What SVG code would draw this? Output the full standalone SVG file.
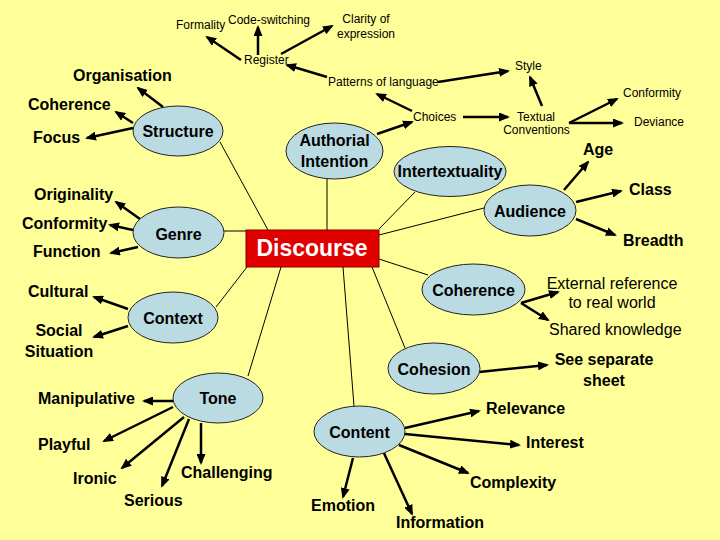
<svg xmlns="http://www.w3.org/2000/svg" width="720" height="540" viewBox="0 0 720 540">
<style>
.b{font-family:"Liberation Sans",Arial,sans-serif;font-weight:bold;font-size:16px;fill:#000}
.s{font-family:"Liberation Sans",Arial,sans-serif;font-size:12px;fill:#000}
.m{font-family:"Liberation Sans",Arial,sans-serif;font-size:16px;fill:#000}
.c{text-anchor:middle}
.el{fill:#BADBE2;stroke:#222;stroke-width:1}
.ln{stroke:#000;stroke-width:1;fill:none}
.ar{stroke:#000;stroke-width:2.5;fill:none;marker-end:url(#ah)}
</style>
<defs>
<marker id="ah" markerUnits="userSpaceOnUse" markerWidth="11" markerHeight="9" refX="9" refY="4.5" orient="auto">
<path d="M0,0 L11,4.5 L0,9 z" fill="#000"/>
</marker>
</defs>
<rect x="0" y="0" width="720" height="540" fill="#FFFF99"/>

<g id="connectors">
<!-- thin lines from Discourse -->
<line class="ln" x1="220" y1="142" x2="268" y2="230"/>
<line class="ln" x1="327" y1="179" x2="327" y2="230"/>
<line class="ln" x1="415" y1="192" x2="379" y2="229"/>
<line class="ln" x1="484" y1="208" x2="379" y2="235"/>
<line class="ln" x1="224" y1="231" x2="246" y2="231"/>
<line class="ln" x1="379" y1="259" x2="428" y2="275"/>
<line class="ln" x1="372" y1="267" x2="405" y2="348"/>
<line class="ln" x1="343" y1="267" x2="354" y2="406"/>
<line class="ln" x1="281" y1="267" x2="248" y2="376"/>
<line class="ln" x1="247" y1="267" x2="216" y2="307"/>
<!-- Structure -->
<line class="ar" x1="163" y1="107" x2="138" y2="88"/>
<line class="ar" x1="133" y1="123" x2="116" y2="112"/>
<line class="ar" x1="133" y1="128" x2="87" y2="138"/>
<!-- Register -->
<line class="ar" x1="241" y1="60" x2="207" y2="37"/>
<line class="ar" x1="258" y1="55" x2="258" y2="27"/>
<line class="ar" x1="281" y1="54" x2="332" y2="26"/>
<line class="ar" x1="327" y1="77" x2="287" y2="65"/>
<!-- Patterns / Choices / Textual -->
<line class="ar" x1="438" y1="82" x2="508" y2="71"/>
<line class="ar" x1="412" y1="111" x2="377" y2="94"/>
<line class="ar" x1="377" y1="134" x2="412" y2="122"/>
<line class="ar" x1="463" y1="117" x2="508" y2="117"/>
<line class="ar" x1="542" y1="106" x2="530" y2="77"/>
<line class="ar" x1="569" y1="123" x2="617" y2="99"/>
<line class="ar" x1="569" y1="123" x2="622" y2="123"/>
<!-- Audience -->
<line class="ar" x1="564" y1="190" x2="588" y2="162"/>
<line class="ar" x1="576" y1="202" x2="621" y2="191"/>
<line class="ar" x1="576" y1="219" x2="615" y2="235"/>
<!-- Coherence -->
<line class="ar" x1="521" y1="303" x2="558" y2="292"/>
<line class="ar" x1="521" y1="303" x2="548" y2="320"/>
<!-- Cohesion -->
<line class="ar" x1="479" y1="372" x2="547" y2="365"/>
<!-- Content -->
<line class="ar" x1="405" y1="428" x2="479" y2="411"/>
<line class="ar" x1="405" y1="434" x2="519" y2="445"/>
<line class="ar" x1="399" y1="445" x2="468" y2="473"/>
<line class="ar" x1="383" y1="451" x2="412" y2="514"/>
<line class="ar" x1="353" y1="458" x2="343" y2="497"/>
<!-- Tone -->
<line class="ar" x1="173" y1="401" x2="144" y2="401"/>
<line class="ar" x1="173" y1="407" x2="104" y2="441"/>
<line class="ar" x1="184" y1="417" x2="122" y2="468"/>
<line class="ar" x1="189" y1="419" x2="162" y2="486"/>
<line class="ar" x1="201" y1="423" x2="201" y2="463"/>
<!-- Genre -->
<line class="ar" x1="140" y1="219" x2="116" y2="202"/>
<line class="ar" x1="133" y1="230" x2="110" y2="225"/>
<line class="ar" x1="138" y1="247" x2="111" y2="253"/>
<!-- Context -->
<line class="ar" x1="128" y1="309" x2="94" y2="297"/>
<line class="ar" x1="128" y1="326" x2="94" y2="337"/>
</g>

<g id="discourse">
<rect x="246" y="230" width="133" height="37" fill="#E00000" stroke="#800000" stroke-width="1"/>
<text class="b c" x="312" y="256" style="font-size:23px;fill:#fff">Discourse</text>
</g>
<g id="structure"><ellipse class="el" cx="178" cy="131" rx="45" ry="25"/><text class="b c" x="178" y="137">Structure</text></g>
<g id="authorial"><ellipse class="el" cx="334.5" cy="151" rx="48.5" ry="28"/><text class="b c" x="334.5" y="146">Authorial</text><text class="b c" x="334.5" y="167">Intention</text></g>
<g id="intertextuality"><ellipse class="el" cx="450" cy="171.5" rx="56" ry="25"/><text class="b c" x="450" y="177">Intertextuality</text></g>
<g id="audience"><ellipse class="el" cx="530" cy="210.5" rx="46" ry="25.5"/><text class="b c" x="530" y="216.5">Audience</text></g>
<g id="coherence2"><ellipse class="el" cx="473.5" cy="289.5" rx="51.5" ry="25.5"/><text class="b c" x="473.5" y="296">Coherence</text></g>
<g id="cohesion"><ellipse class="el" cx="434" cy="368.5" rx="46" ry="25.5"/><text class="b c" x="434" y="375">Cohesion</text></g>
<g id="content"><ellipse class="el" cx="359.5" cy="431.5" rx="45.5" ry="25.5"/><text class="b c" x="359.5" y="438">Content</text></g>
<g id="tone"><ellipse class="el" cx="218" cy="398" rx="45" ry="25"/><text class="b c" x="218" y="403.5">Tone</text></g>
<g id="context"><ellipse class="el" cx="173" cy="317.5" rx="45" ry="25.5"/><text class="b c" x="173" y="324">Context</text></g>
<g id="genre"><ellipse class="el" cx="178.5" cy="232.5" rx="45.5" ry="25.5"/><text class="b c" x="178.5" y="239.5">Genre</text></g>

<g id="labels">
<g id="formality"><text class="s" x="176" y="29">Formality</text></g>
<g id="codeswitching"><text class="s" x="228" y="24">Code-switching</text></g>
<g id="clarity"><text class="s c" x="366" y="23">Clarity of</text><text class="s c" x="366" y="38">expression</text></g>
<g id="register"><text class="s" x="244" y="64">Register</text></g>
<g id="patterns"><text class="s" x="328" y="86">Patterns of language</text></g>
<g id="style"><text class="s" x="515" y="70">Style</text></g>
<g id="choices"><text class="s" x="413" y="121">Choices</text></g>
<g id="textual"><text class="s c" x="536" y="121">Textual</text><text class="s c" x="536.5" y="134">Conventions</text></g>
<g id="conformity2"><text class="s" x="623" y="97">Conformity</text></g>
<g id="deviance"><text class="s" x="634" y="126">Deviance</text></g>
<g id="organisation"><text class="b" x="73" y="81">Organisation</text></g>
<g id="coherence1"><text class="b" x="28" y="110">Coherence</text></g>
<g id="focus"><text class="b" x="33" y="143">Focus</text></g>
<g id="age"><text class="b" x="583" y="155">Age</text></g>
<g id="class"><text class="b" x="629" y="195">Class</text></g>
<g id="breadth"><text class="b" x="623" y="245.5">Breadth</text></g>
<g id="originality"><text class="b" x="34" y="200">Originality</text></g>
<g id="conformity1"><text class="b" x="22" y="229">Conformity</text></g>
<g id="function"><text class="b" x="33" y="256.5">Function</text></g>
<g id="cultural"><text class="b" x="28" y="296.5">Cultural</text></g>
<g id="social"><text class="b c" x="59" y="336">Social</text><text class="b c" x="59" y="357">Situation</text></g>
<g id="external"><text class="m c" x="612" y="289">External reference</text><text class="m c" x="612" y="308">to real world</text></g>
<g id="shared"><text class="m" x="549" y="335">Shared knowledge</text></g>
<g id="separate"><text class="b c" x="604" y="365">See separate</text><text class="b c" x="604" y="386">sheet</text></g>
<g id="relevance"><text class="b" x="486" y="414">Relevance</text></g>
<g id="interest"><text class="b" x="526" y="448">Interest</text></g>
<g id="complexity"><text class="b" x="470" y="488">Complexity</text></g>
<g id="information"><text class="b" x="396" y="528">Information</text></g>
<g id="emotion"><text class="b" x="311" y="511">Emotion</text></g>
<g id="manipulative"><text class="b" x="38" y="404">Manipulative</text></g>
<g id="playful"><text class="b" x="38" y="450">Playful</text></g>
<g id="ironic"><text class="b" x="73" y="484">Ironic</text></g>
<g id="serious"><text class="b" x="124" y="505.5">Serious</text></g>
<g id="challenging"><text class="b" x="181" y="478">Challenging</text></g>
</g>
</svg>
